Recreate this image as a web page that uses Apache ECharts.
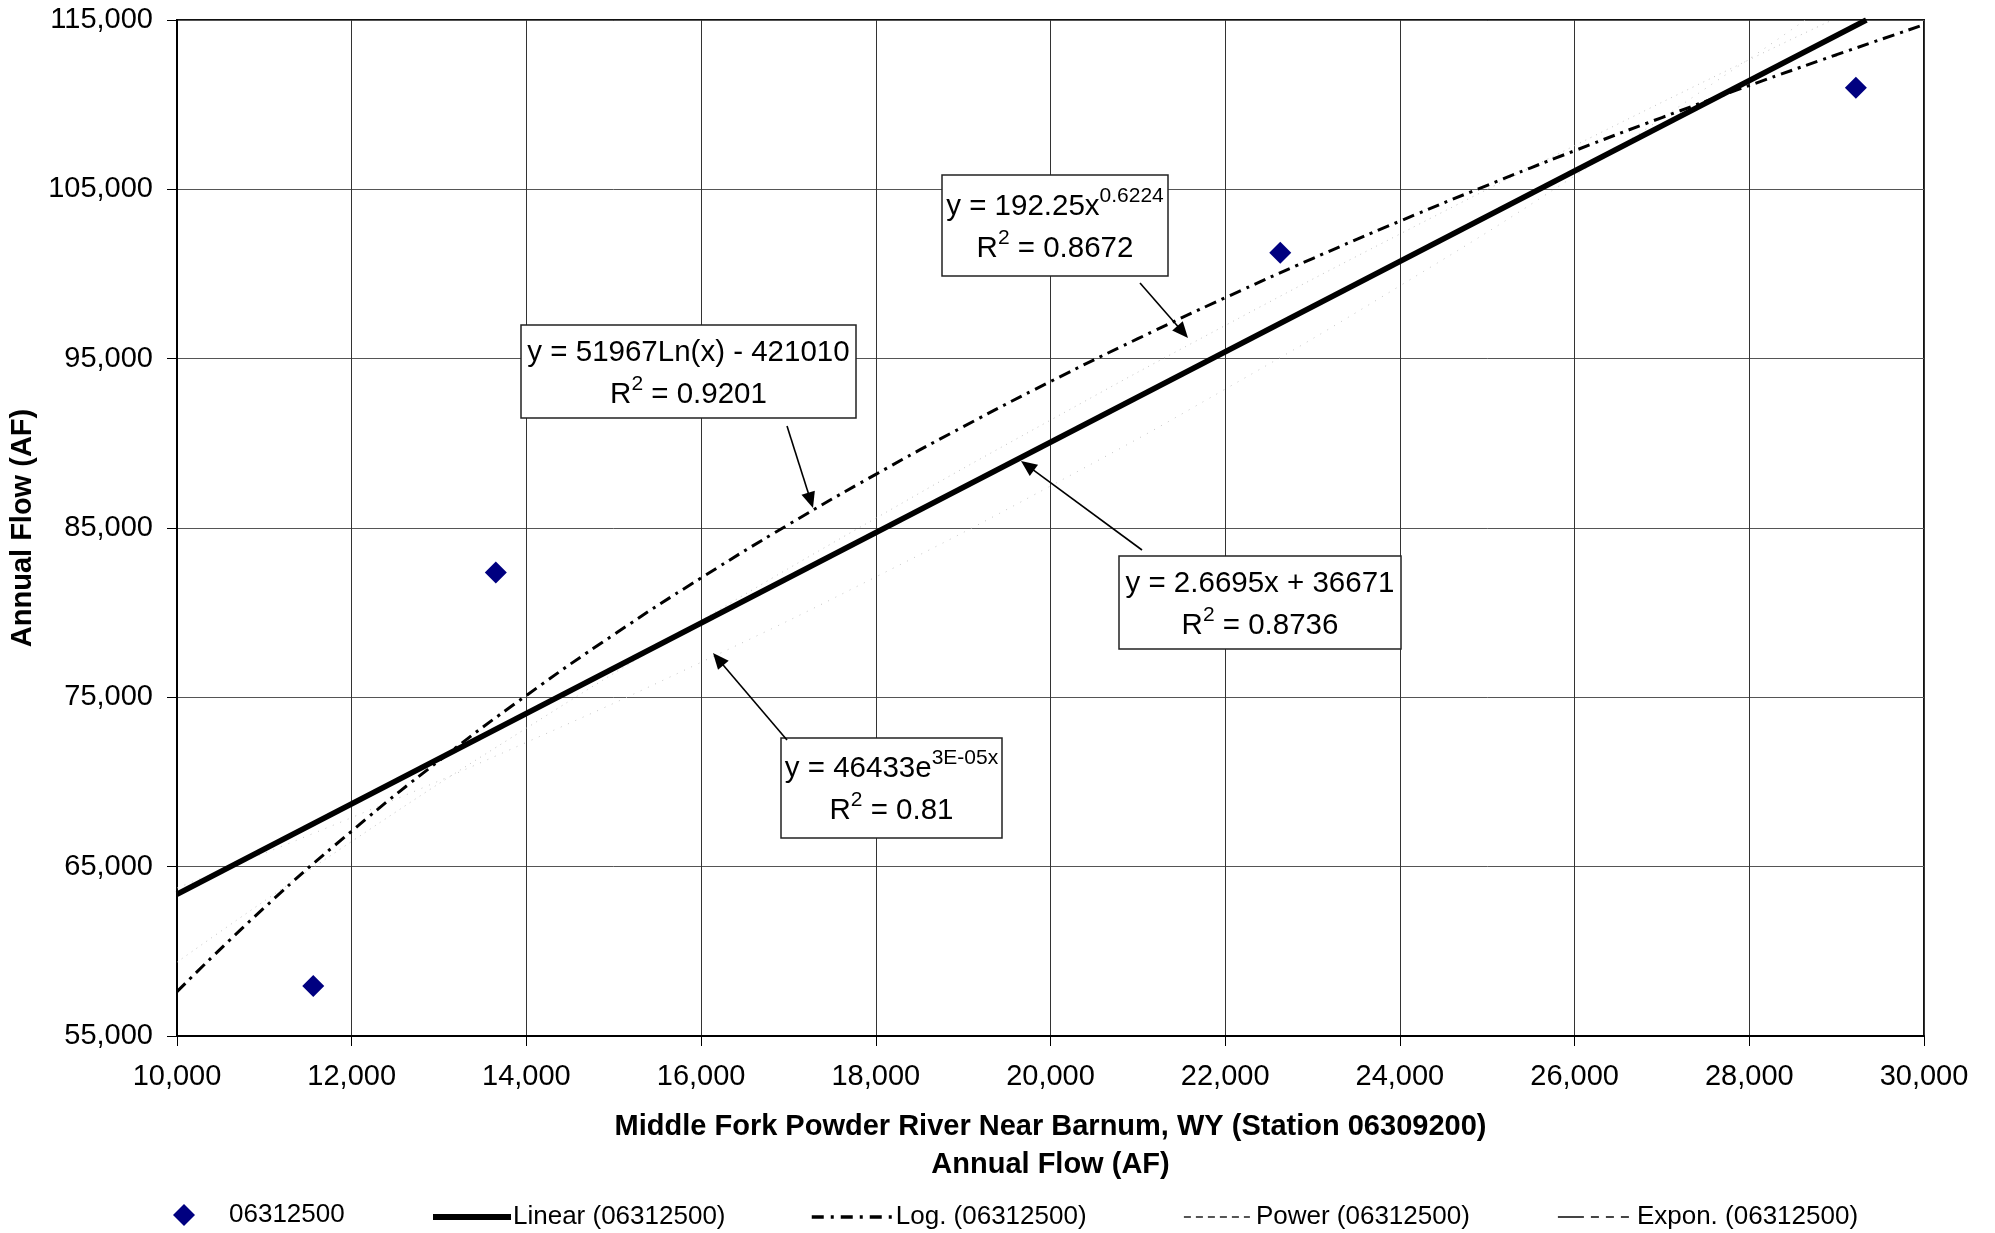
<!DOCTYPE html>
<html><head><meta charset="utf-8">
<script src="https://cdn.jsdelivr.net/npm/echarts@6/dist/echarts.min.js"></script>
<style>html,body{margin:0;padding:0;background:#fff}#c{width:1995px;height:1233px}</style>
</head><body><div id="c"></div>
<script>
// ---- data ----
const seriesName = '06312500';
const obsX = [11560, 13650, 22630, 29220];
const obsY = [57950, 82370, 101260, 111000];

const linearName = 'Linear (06312500)';
const linearX = [10000, 29340];
const linearY = [63370, 115000];

const logName = 'Log. (06312500)';
const logX = [10000, 11000, 12000, 13000, 14000, 15000, 16000, 17000, 18000, 19000, 20000, 21000, 22000, 23000, 24000, 25000, 26000, 27000, 28000, 29000, 30000];
const logY = [57620, 62580, 67100, 71260, 75110, 78700, 82050, 85200, 88170, 90980, 93650, 96180, 98600, 100910, 103120, 105240, 107280, 109240, 111130, 112950, 114720];

const powerName = 'Power (06312500)';
const powerX = [10000, 12000, 14000, 16000, 18000, 20000, 22000, 24000, 26000, 28000, 28950];
const powerY = [59360, 66490, 73180, 79530, 85580, 91370, 96960, 102360, 107580, 112660, 115000];

const exponName = 'Expon. (06312500)';
const exponX = [10000, 12000, 14000, 16000, 18000, 20000, 22000, 24000, 26000, 28000, 28640];
const exponY = [63740, 67900, 72340, 77070, 82110, 87480, 93200, 99300, 105790, 112710, 115000];

const xMin = 10000, xMax = 30000, xStep = 2000;
const yMin = 55000, yMax = 115000, yStep = 10000;

const xTitle = 'Middle Fork Powder River Near Barnum, WY (Station 06309200)\nAnnual Flow (AF)';
const yTitle = 'Annual Flow (AF)';

const eqPower = ['y = 192.25x', '0.6224', '0.8672'];
const eqLog = ['y = 51967Ln(x) - 421010', '', '0.9201'];
const eqLinear = ['y = 2.6695x + 36671', '', '0.8736'];
const eqExpon = ['y = 46433e', '3E-05x', '0.81'];

// ---- chart ----
const FONT = '"Liberation Sans", Arial, Helvetica, sans-serif';
const zip = (xs, ys) => xs.map((x, i) => [x, ys[i]]);
const fmt = v => Number(v).toLocaleString('en-US');

function arrow(x1, y1, x2, y2) {
  const dx = x2 - x1, dy = y2 - y1, len = Math.hypot(dx, dy);
  const ux = dx / len, uy = dy / len, nx = -uy, ny = ux;
  const L = 16, W = 7;
  const bx = x2 - ux * L, by = y2 - uy * L;
  return [
    { type: 'line', z: 100, shape: { x1, y1, x2: bx + ux * 3, y2: by + uy * 3 }, style: { stroke: '#000', lineWidth: 1.6 } },
    { type: 'polygon', z: 100, shape: { points: [[x2, y2], [bx + nx * W, by + ny * W], [bx - nx * W, by - ny * W]] }, style: { fill: '#000' } }
  ];
}
function box(x, y, w, h, eq) {
  const line1 = eq[1] ? `{m|${eq[0]}}{s|${eq[1]}}` : `{m|${eq[0]}}`;
  const txt = `${line1}\n{m|R}{s|2}{m| = ${eq[2]}}`;
  return {
    type: 'group', x, y, z: 100,
    children: [
      { type: 'rect', z: 100, shape: { x: 0, y: 0, width: w, height: h }, style: { fill: '#fff', stroke: '#222', lineWidth: 1.5 } },
      { type: 'text', z: 101, style: {
          x: w / 2, y: h / 2 + 2, align: 'center', verticalAlign: 'middle', text: txt,
          rich: {
            m: { fontSize: 29.5, fontFamily: FONT, fill: '#000', lineHeight: 42, verticalAlign: 'middle' },
            s: { fontSize: 21, fontFamily: FONT, fill: '#000', lineHeight: 22, verticalAlign: 'top' }
          }
      } }
    ]
  };
}

const legendBase = { orient: 'horizontal', top: 1204, padding: 0, itemHeight: 18, selectedMode: false,
  itemStyle: { opacity: 0, borderWidth: 0 },
  textStyle: { fontSize: 26, fontFamily: FONT, color: '#000' } };

const option = {
  animation: false,
  backgroundColor: '#fff',
  textStyle: { fontFamily: FONT },
  grid: { left: 177, top: 20, width: 1747, height: 1016, show: true, borderColor: '#111', borderWidth: 2, backgroundColor: 'transparent', containLabel: false },
  xAxis: {
    type: 'value', min: xMin, max: xMax, interval: xStep,
    name: xTitle, nameLocation: 'middle', nameGap: 72,
    nameTextStyle: { fontSize: 29, fontWeight: 'bold', fontFamily: FONT, color: '#000', lineHeight: 38 },
    axisLine: { show: true, onZero: false, lineStyle: { color: '#000', width: 2 } },
    axisTick: { show: true, length: 10, inside: false, lineStyle: { color: '#000', width: 1 } },
    axisLabel: { fontSize: 29, color: '#000', fontFamily: FONT, margin: 26, formatter: fmt },
    splitLine: { show: true, lineStyle: { color: '#333', width: 1 } }
  },
  yAxis: {
    type: 'value', min: yMin, max: yMax, interval: yStep,
    name: yTitle, nameLocation: 'middle', nameGap: 140, nameRotate: 90,
    nameTextStyle: { fontSize: 29, fontWeight: 'bold', fontFamily: FONT, color: '#000' },
    axisLine: { show: true, lineStyle: { color: '#000', width: 2 } },
    axisTick: { show: true, length: 10, inside: false, lineStyle: { color: '#000', width: 1 } },
    axisLabel: { fontSize: 29, color: '#000', fontFamily: FONT, margin: 24, formatter: fmt },
    splitLine: { show: true, lineStyle: { color: '#555', width: 1 } }
  },
  legend: [
    Object.assign({}, legendBase, { data: [seriesName], left: 173, itemWidth: 22, itemHeight: 22, top: 1202, icon: 'diamond',
      itemStyle: { color: '#000080', opacity: 1 },
      textStyle: Object.assign({}, legendBase.textStyle, { padding: [0, 0, 0, 29] }) }),
    Object.assign({}, legendBase, { data: [linearName], left: 430, itemWidth: 78,
      lineStyle: { color: '#000', width: 6, type: 'solid' },
      textStyle: Object.assign({}, legendBase.textStyle, { padding: [0, 0, 0, -3] }) }),
    Object.assign({}, legendBase, { data: [logName], left: 810, itemWidth: 80,
      textStyle: Object.assign({}, legendBase.textStyle, { padding: [0, 0, 0, -1] }),
      lineStyle: { color: '#000', width: 3.5, type: [12, 7, 3, 7] } }),
    Object.assign({}, legendBase, { data: [powerName], left: 1183, itemWidth: 66,
      textStyle: Object.assign({}, legendBase.textStyle, { padding: [0, 0, 0, 1] }),
      lineStyle: { color: '#555', width: 1.8, type: [7, 5] } }),
    Object.assign({}, legendBase, { data: [exponName], left: 1557, itemWidth: 72,
      textStyle: Object.assign({}, legendBase.textStyle, { padding: [0, 0, 0, 2] }),
      lineStyle: { color: '#444', width: 1.8, type: [26, 7, 8, 7, 8, 7, 8, 7] } })
  ],
  series: [
    { name: exponName, type: 'line', data: zip(exponX, exponY), smooth: true, symbol: 'none', showSymbol: false, silent: true, z: 3,
      itemStyle: { color: '#999' },
      lineStyle: { color: '#c4c4c4', width: 1, type: [1, 7] } },
    { name: powerName, type: 'line', data: zip(powerX, powerY), smooth: true, symbol: 'none', showSymbol: false, silent: true, z: 3,
      itemStyle: { color: '#999' },
      lineStyle: { color: '#c4c4c4', width: 1, type: [1, 5] } },
    { name: linearName, type: 'line', data: zip(linearX, linearY), symbol: 'none', showSymbol: false, silent: true, z: 4,
      itemStyle: { color: '#000' },
      lineStyle: { color: '#000', width: 5.5, type: 'solid' } },
    { name: logName, type: 'line', data: zip(logX, logY), smooth: true, symbol: 'none', showSymbol: false, silent: true, z: 5,
      itemStyle: { color: '#000' },
      lineStyle: { color: '#000', width: 3, type: [12, 6, 3, 6] } },
    { name: seriesName, type: 'scatter', data: zip(obsX, obsY), symbol: 'diamond', symbolSize: 22, z: 6,
      itemStyle: { color: '#000080', opacity: 1 } }
  ],
  graphic: [
    box(942, 175, 226, 101, eqPower),
    box(521, 325, 335, 93, eqLog),
    box(1119, 556, 282, 93, eqLinear),
    box(781, 738, 221, 100, eqExpon),
    ...arrow(1140, 283, 1188, 338),
    ...arrow(787, 426, 813, 508),
    ...arrow(1142, 550, 1021, 461),
    ...arrow(787, 740, 713, 653)
  ]
};

const chart = echarts.init(document.getElementById('c'), null, { renderer: 'canvas' });
chart.setOption(option);
</script></body></html>
